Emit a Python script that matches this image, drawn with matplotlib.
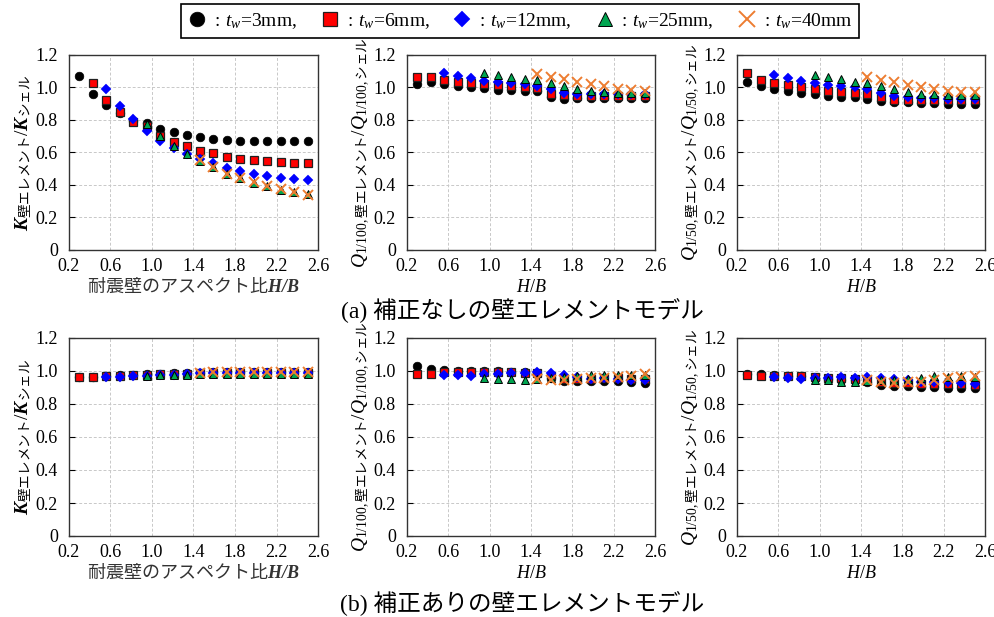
import numpy as np
import matplotlib
matplotlib.use("Agg")
import matplotlib.pyplot as plt
from matplotlib.lines import Line2D
from matplotlib.ticker import FuncFormatter

plt.rcParams['font.family'] = ['Liberation Serif', 'Noto Sans CJK JP']
plt.rcParams['mathtext.fontset'] = 'custom'
plt.rcParams['mathtext.rm'] = 'Liberation Serif'
plt.rcParams['mathtext.it'] = 'Liberation Serif:italic'
plt.rcParams['mathtext.bf'] = 'Liberation Serif:bold:italic'
plt.rcParams['mathtext.sf'] = 'Noto Sans CJK JP'

nan = np.nan
# aspect ratios H/B
x_all = [0.30, 0.43, 0.56, 0.69, 0.82, 0.95, 1.08, 1.21, 1.34, 1.46, 1.59, 1.72, 1.85, 1.98, 2.11, 2.24, 2.37, 2.50]
x_3mm = x_all
x_6mm = x_all
x_12mm = x_all[2:]
x_25mm = x_all[5:]
x_40mm = x_all[9:]

# (a) no correction : K ratio
a_k_3 = [1.07, 0.957, 0.891, 0.845, 0.795, 0.78, 0.746, 0.725, 0.71, 0.697, 0.684, 0.679, 0.673, 0.670, 0.670, 0.670, 0.670, 0.670]
a_k_6 = [nan, 1.025, 0.923, 0.85, 0.788, 0.76, 0.70, 0.665, 0.638, 0.61, 0.594, 0.575, 0.563, 0.555, 0.546, 0.543, 0.538, 0.535]
a_k_12 = [0.992, 0.888, 0.804, 0.73, 0.673, 0.625, 0.59, 0.56, 0.535, 0.506, 0.484, 0.469, 0.458, 0.445, 0.436, 0.428]
a_k_25 = [0.777, 0.70, 0.638, 0.59, 0.545, 0.508, 0.468, 0.443, 0.415, 0.393, 0.372, 0.358, 0.345]
a_k_40 = [0.555, 0.51, 0.47, 0.445, 0.418, 0.395, 0.375, 0.358, 0.338]

# (a) Q1/100 ratio
a_q100_3 = [1.019, 1.031, 1.023, 1.007, 1.0, 0.994, 0.986, 0.982, 0.98, 0.98, 0.939, 0.932, 0.935, 0.935, 0.935, 0.935, 0.935, 0.935]
a_q100_6 = [1.066, 1.066, 1.048, 1.035, 1.027, 1.021, 1.015, 1.009, 1.005, 0.998, 0.963, 0.951, 0.949, 0.949, 0.949, 0.947, 0.947, 0.947]
a_q100_12 = [1.087, 1.07, 1.056, 1.042, 1.031, 1.025, 1.019, 1.011, 0.992, 0.967, 0.963, 0.959, 0.957, 0.957, 0.957, 0.957]
a_q100_25 = [1.087, 1.075, 1.066, 1.054, 1.044, 1.025, 1.01, 0.992, 0.978, 0.972, 0.967, 0.967, 0.967]
a_q100_40 = [1.081, 1.066, 1.05, 1.033, 1.019, 1.007, 0.992, 0.984, 0.98]

# (a) Q1/50 ratio
a_q50_3 = [1.031, 1.009, 0.992, 0.978, 0.967, 0.957, 0.949, 0.943, 0.939, 0.932, 0.916, 0.91, 0.91, 0.906, 0.906, 0.9, 0.9, 0.9]
a_q50_6 = [1.091, 1.046, 1.025, 1.013, 1.0, 0.988, 0.98, 0.972, 0.967, 0.963, 0.939, 0.926, 0.926, 0.922, 0.922, 0.92, 0.92, 0.92]
a_q50_12 = [1.079, 1.056, 1.037, 1.025, 1.015, 1.007, 1.0, 0.992, 0.967, 0.947, 0.939, 0.935, 0.933, 0.931, 0.93, 0.93]
a_q50_25 = [1.079, 1.066, 1.052, 1.035, 1.029, 1.011, 0.988, 0.972, 0.963, 0.957, 0.953, 0.951, 0.951]
a_q50_40 = [1.066, 1.046, 1.033, 1.015, 1.0, 0.99, 0.978, 0.974, 0.97]

# (b) corrected : K ratio
b_k_3 = [0.966, 0.966, 0.97, 0.974, 0.976, 0.979, 0.983, 0.985, 0.987, 0.99, 0.991, 0.992, 0.992, 0.993, 0.993, 0.994, 0.994, 0.994]
b_k_6 = [0.963, 0.963, 0.967, 0.971, 0.973, 0.976, 0.98, 0.982, 0.984, 0.988, 0.988, 0.989, 0.989, 0.99, 0.99, 0.99, 0.99, 0.99]
b_k_12 = [0.965, 0.965, 0.967, 0.969, 0.973, 0.977, 0.979, 0.985, 0.986, 0.987, 0.987, 0.988, 0.988, 0.989, 0.989, 0.989]
b_k_25 = [0.969, 0.973, 0.976, 0.978, 0.98, 0.981, 0.982, 0.982, 0.983, 0.983, 0.983, 0.984, 0.984]
b_k_40 = [0.99, 0.991, 0.992, 0.992, 0.993, 0.993, 0.993, 0.994, 0.994]

# (b) Q1/100 ratio
b_q100_3 = [1.029, 1.015, 1.006, 1.002, 1.002, 1.002, 0.998, 0.996, 0.994, 0.982, 0.958, 0.942, 0.942, 0.938, 0.942, 0.938, 0.934, 0.93]
b_q100_6 = [0.984, 0.984, 0.994, 0.996, 0.996, 0.996, 0.996, 0.994, 0.99, 0.988, 0.968, 0.954, 0.954, 0.954, 0.958, 0.958, 0.954, 0.95]
b_q100_12 = [0.974, 0.974, 0.97, 0.982, 0.982, 0.986, 0.988, 0.992, 0.988, 0.974, 0.962, 0.954, 0.958, 0.954, 0.946, 0.946]
b_q100_25 = [0.958, 0.954, 0.954, 0.948, 0.954, 0.958, 0.966, 0.972, 0.974, 0.974, 0.974, 0.974, 0.978]
b_q100_40 = [0.952, 0.948, 0.948, 0.954, 0.958, 0.958, 0.966, 0.972, 0.982]

# (b) Q1/50 ratio
b_q50_3 = [0.98, 0.984, 0.976, 0.972, 0.968, 0.96, 0.952, 0.948, 0.944, 0.935, 0.915, 0.907, 0.91, 0.903, 0.905, 0.897, 0.897, 0.895]
b_q50_6 = [0.976, 0.968, 0.972, 0.97, 0.972, 0.964, 0.96, 0.956, 0.952, 0.943, 0.931, 0.927, 0.927, 0.923, 0.923, 0.923, 0.921, 0.915]
b_q50_12 = [0.962, 0.956, 0.952, 0.96, 0.96, 0.964, 0.96, 0.964, 0.956, 0.952, 0.943, 0.935, 0.935, 0.931, 0.927, 0.923]
b_q50_25 = [0.943, 0.943, 0.935, 0.935, 0.939, 0.943, 0.947, 0.952, 0.96, 0.972, 0.964, 0.968, 0.964]
b_q50_40 = [0.943, 0.931, 0.927, 0.935, 0.935, 0.947, 0.956, 0.964, 0.972]

legend_labels = [r' : $t_w$=3mm,', r' : $t_w$=6mm,', r' : $t_w$=12mm,', r' : $t_w$=25mm,', r' : $t_w$=40mm']
y_ticks = [0, 0.2, 0.4, 0.6, 0.8, 1.0, 1.2]
x_ticks = [0.2, 0.6, 1.0, 1.4, 1.8, 2.2, 2.6]

styles = [
    dict(marker='o', color='black', markeredgecolor='black', markersize=6.2, markeredgewidth=0.5),
    dict(marker='s', color='#FF0000', markeredgecolor='#202020', markersize=5.8, markeredgewidth=0.9),
    dict(marker='D', color='#0000FF', markeredgecolor='#0000FF', markersize=4.8, markeredgewidth=0.3),
    dict(marker='^', color='#00A550', markeredgecolor='black', markersize=6.2, markeredgewidth=0.7),
    dict(marker='x', color='#ED7D31', markeredgecolor='#ED7D31', markersize=6.5, markeredgewidth=1.4),
]
xs = [x_3mm, x_6mm, x_12mm, x_25mm, x_40mm]

panels = [
    ([a_k_3, a_k_6, a_k_12, a_k_25, a_k_40], 'K'),
    ([a_q100_3, a_q100_6, a_q100_12, a_q100_25, a_q100_40], 'Q100'),
    ([a_q50_3, a_q50_6, a_q50_12, a_q50_25, a_q50_40], 'Q50'),
    ([b_k_3, b_k_6, b_k_12, b_k_25, b_k_40], 'K'),
    ([b_q100_3, b_q100_6, b_q100_12, b_q100_25, b_q100_40], 'Q100'),
    ([b_q50_3, b_q50_6, b_q50_12, b_q50_25, b_q50_40], 'Q50'),
]

ylabels = {
    'K': r'$\mathbf{K}_{\mathsf{壁エレメント}}/\mathbf{K}_{\mathsf{シェル}}$',
    'Q100': r'$Q_{\mathrm{1/100,}\mathsf{壁エレメント}}/Q_{\mathrm{1/100,}\mathsf{シェル}}$',
    'Q50': r'$Q_{\mathrm{1/50,}\mathsf{壁エレメント}}/Q_{\mathrm{1/50,}\mathsf{シェル}}$',
}

W, H = 995, 617
fig = plt.figure(figsize=(W / 100, H / 100), dpi=100)

col_lr = [(69, 318), (407, 655), (737, 985)]
row_tb = [(55, 250), (338, 536)]

def fmt(v, pos):
    return '0' if abs(v) < 1e-9 else '%.1f' % v

for i, (series, kind) in enumerate(panels):
    r, c = divmod(i, 3)
    l, rr = col_lr[c]
    t, b = row_tb[r]
    ax = fig.add_axes([l / W, 1 - b / H, (rr - l) / W, (b - t) / H])
    for xv, yv, st in zip(xs, series, styles):
        ax.plot(xv, yv, linestyle='none', **st)
    ax.set_xlim(0.2, 2.6)
    ax.set_ylim(0, 1.2)
    ax.set_xticks(x_ticks)
    ax.set_yticks(y_ticks)
    ax.yaxis.set_major_formatter(FuncFormatter(fmt))
    ax.xaxis.set_major_formatter(FuncFormatter(lambda v, p: '%.1f' % v))
    ax.grid(True, color='#c8c8c8', linestyle=(0, (3, 2)), linewidth=0.7)
    ax.set_axisbelow(True)
    for sp in ax.spines.values():
        sp.set_color('#333333')
        sp.set_linewidth(1.0)
    ax.tick_params(axis='y', direction='in', length=4, labelsize=13, pad=8)
    ax.tick_params(axis='x', length=0, labelsize=13, pad=6)
    for lab in ax.get_xticklabels() + ax.get_yticklabels():
        lab.set_family('Liberation Serif')
    ax.set_ylabel(ylabels[kind], fontsize=14, labelpad=1)
    if c == 0:
        ax.set_xlabel('耐震壁のアスペクト比' + r'$\mathbf{H/B}$', fontsize=13,
                      family=['Noto Sans CJK JP'], color='#333333', labelpad=1)
    else:
        ax.set_xlabel(r'$H/B$', fontsize=13, labelpad=3)

fig.text(522 / W, 1 - 311 / H, '(a) 補正なしの壁エレメントモデル', ha='center', va='center',
         fontsize=17, family=['Liberation Serif', 'Noto Sans CJK JP'])
fig.text(522 / W, 1 - 604 / H, '(b) 補正ありの壁エレメントモデル', ha='center', va='center',
         fontsize=17, family=['Liberation Serif', 'Noto Sans CJK JP'])

handles = [Line2D([], [], linestyle='none', **st) for st in styles]
leg = fig.legend(handles, legend_labels, loc='center', bbox_to_anchor=(520 / W, 1 - 21 / H),
                 ncol=5, frameon=True, fancybox=False, markerscale=1.7,
                 prop={'family': 'Liberation Serif', 'size': 14},
                 handlelength=1.0, handletextpad=0.15, columnspacing=1.2,
                 borderpad=0.35, edgecolor='black', framealpha=1)
leg.get_frame().set_linewidth(1.2)

fig.savefig('out.png', dpi=100)
